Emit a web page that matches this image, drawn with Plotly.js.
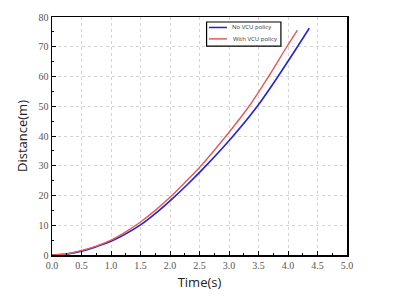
<!DOCTYPE html>
<html>
<head>
<meta charset="utf-8">
<script src="https://cdn.plot.ly/plotly-3.0.1.min.js"></script>
<style>html,body{margin:0;padding:0;background:#fff;}#chart{width:397px;height:303px;}</style>
</head>
<body>
<div id="chart"></div>
<script>
const timeNoVCU = [0, 0.25, 0.5, 0.75, 1.0, 1.25, 1.5, 1.75, 2.0, 2.3, 2.62, 3.07, 3.48, 3.83, 4.16, 4.36];
const distNoVCU = [0, 0.3, 1.3, 2.8, 4.6, 7.1, 10.1, 13.9, 18.2, 23.8, 30.2, 40, 50, 60, 70, 76.2];
const timeVCU = [0, 0.25, 0.5, 0.75, 1.0, 1.25, 1.5, 1.75, 2.0, 2.25, 2.53, 2.95, 3.34, 3.67, 3.98, 4.16];
const distVCU = [0, 0.35, 1.5, 3.0, 5.0, 7.8, 11.1, 15.0, 19.4, 24.3, 30.1, 40, 50, 60, 70, 75.6];
const seriesNames = ["No VCU policy", "With VCU policy"];
const seriesColors = ['#2424c8', '#e05a5a'];

const traces = [
  {x: timeNoVCU, y: distNoVCU, name: seriesNames[0], mode: 'lines', line: {color: seriesColors[0], width: 1.6, shape: 'spline', smoothing: 1}},
  {x: timeVCU, y: distVCU, name: seriesNames[1], mode: 'lines', line: {color: seriesColors[1], width: 1.4, shape: 'spline', smoothing: 1}}
];

const tickFont = {family: 'Liberation Serif, Times New Roman, serif', size: 10, color: '#555'};
const titleFont = {family: 'Open Sans, DejaVu Sans, sans-serif', size: 13, color: '#222'};
const legFont = {family: 'Open Sans, DejaVu Sans, sans-serif', size: 6, color: '#333'};

// manual legend (box + sample lines + labels), placed in paper coordinates
const legBox = {x0: 0.524, x1: 0.776, y0: 0.878, y1: 0.979};
const legRows = [0.956, 0.908];
const shapes = [
  {type: 'rect', xref: 'paper', yref: 'paper', x0: legBox.x0, x1: legBox.x1, y0: legBox.y0, y1: legBox.y1,
   line: {color: '#000', width: 1.2}, fillcolor: '#fff', layer: 'above'}
];
const annotations = [];
seriesNames.forEach((nm, i) => {
  shapes.push({type: 'line', xref: 'paper', yref: 'paper', x0: 0.532, x1: 0.593, y0: legRows[i], y1: legRows[i],
               line: {color: seriesColors[i], width: 1.5}, layer: 'above'});
  annotations.push({xref: 'paper', yref: 'paper', x: 0.603 + i * 0.004, y: legRows[i], xanchor: 'left', yanchor: 'middle',
                    text: nm, showarrow: false, font: legFont});
});

const layout = {
  width: 397, height: 303,
  margin: {l: 52, r: 50, t: 17, b: 48},
  paper_bgcolor: '#fff', plot_bgcolor: '#fff',
  showlegend: false,
  shapes: shapes,
  annotations: annotations,
  xaxis: {
    range: [0, 5], dtick: 0.5, tickformat: '.1f',
    showline: true, linecolor: '#000', linewidth: 1.5, mirror: true,
    ticks: 'inside', ticklen: 4, tickcolor: '#000', tickwidth: 1,
    minor: {ticks: 'inside', ticklen: 2, dtick: 0.25, tickcolor: '#000', showgrid: false},
    showgrid: true, gridcolor: '#d4d4d4', griddash: 'dot', gridwidth: 1,
    zeroline: false, tickfont: tickFont,
    title: {text: 'Time(s)', font: titleFont, standoff: 8}
  },
  yaxis: {
    range: [0, 80], dtick: 10,
    showline: true, linecolor: '#000', linewidth: 1.5, mirror: true,
    ticks: 'inside', ticklen: 4, tickcolor: '#000', tickwidth: 1,
    minor: {ticks: 'inside', ticklen: 2, dtick: 5, tickcolor: '#000', showgrid: false},
    showgrid: true, gridcolor: '#d4d4d4', griddash: 'dot', gridwidth: 1,
    zeroline: false, tickfont: tickFont,
    title: {text: 'Distance(m)', font: titleFont, standoff: 8}
  }
};

Plotly.newPlot('chart', traces, layout, {displayModeBar: false, staticPlot: true});
</script>
</body>
</html>
